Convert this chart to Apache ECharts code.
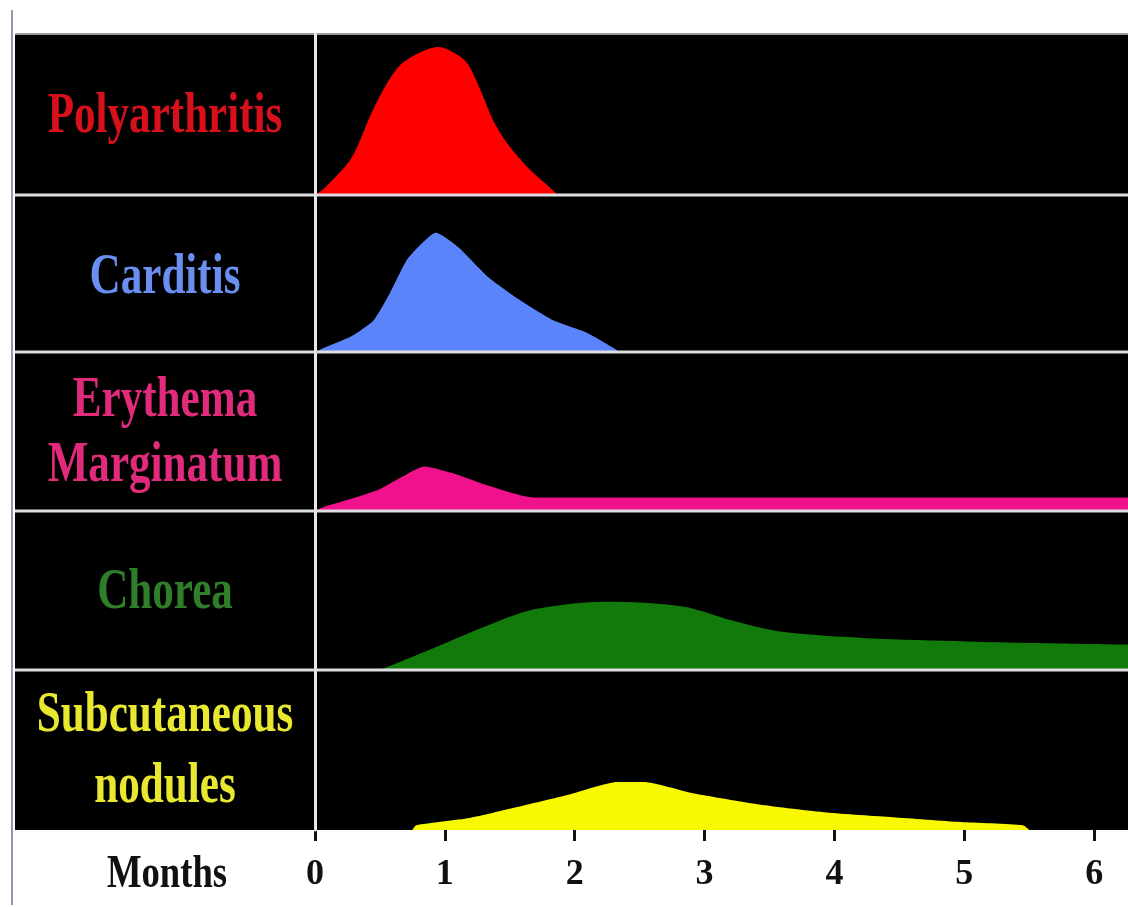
<!DOCTYPE html>
<html><head><meta charset="utf-8">
<script src="https://cdn.jsdelivr.net/npm/echarts@6/dist/echarts.min.js"></script>
<style>html,body{margin:0;padding:0;background:#fff}#c{width:1128px;height:907px}</style>
</head><body><div id="c"></div>
<script>
// ---- data ----
const categories = ['Polyarthritis', 'Carditis', 'Erythema Marginatum', 'Chorea', 'Subcutaneous nodules'];
const labelLines = [['Polyarthritis'], ['Carditis'], ['Erythema', 'Marginatum'], ['Chorea'], ['Subcutaneous', 'nodules']];

const polyMonths = [0, 0.07, 0.28, 0.43, 0.53, 0.66, 0.82, 0.95, 1.10, 1.18, 1.28, 1.38, 1.49, 1.64, 1.79, 1.87];
const polyValues = [0, 4, 23, 50, 66, 81, 89, 92, 87, 81, 64, 45, 31, 17, 6, 0];

const cardMonths = [0, 0.08, 0.28, 0.45, 0.58, 0.71, 0.82, 0.93, 1.10, 1.33, 1.58, 1.84, 2.10, 2.35];
const cardValues = [0, 3, 10, 20, 38, 59, 69, 76, 67, 48, 33, 20, 12, 0];

const eryMonths = [0, 0.05, 0.48, 0.66, 0.84, 1.05, 1.33, 1.68, 6.26];
const eryValues = [0, 2, 13, 21, 28, 24, 16, 8.5, 8.5];

const choMonths = [0.5, 0.92, 1.3, 1.68, 2.24, 2.83, 3.22, 3.6, 4.25, 5.02, 5.53, 6.26];
const choValues = [0, 14, 27, 38, 43, 40, 31, 24, 20, 18, 17, 16];

const subMonths = [0.75, 0.78, 1.19, 1.54, 1.95, 2.33, 2.53, 2.91, 3.42, 3.94, 4.45, 4.97, 5.45, 5.5];
const subValues = [0, 3, 7.5, 14, 22, 30, 30, 23, 16, 11, 8, 5, 3, 0];

const monthTicks = [0, 1, 2, 3, 4, 5, 6];
const xName = 'Months';

// ---- styling / layout ----
const fillColors = ['#ff0000', '#5b84fb', '#f0128a', '#127a0a', '#f8f800'];
const textColors = ['#d8101c', '#6a8ff0', '#e02a7c', '#2f7f2a', '#e8e830'];
const bandTops = [34, 195, 352, 511, 670];
const bandBottoms = [195, 352, 511, 670, 830];
const labelCenters = [[118], [279], [402, 467], [594], [717, 788]];
const seriesMonths = [polyMonths, cardMonths, eryMonths, choMonths, subMonths];
const seriesValues = [polyValues, cardValues, eryValues, choValues, subValues];
const smoothness = [0.3, 0.2, 0.2, 0.3, 0.2];
const xMax = 6.26;
const serif = '"Liberation Serif", "Times New Roman", serif';

const chart = echarts.init(document.getElementById('c'), null, {renderer: 'canvas'});

const grids = bandTops.map((t, i) => ({left: 315, right: 0, top: t, height: bandBottoms[i] - t}));
const xAxes = grids.map((g, i) => {
  const last = i === grids.length - 1;
  return {
    type: 'value', gridIndex: i, min: 0, max: xMax,
    show: last,
    axisLine: {show: false},
    splitLine: {show: false},
    axisTick: {show: last, customValues: monthTicks, length: 11, lineStyle: {color: '#111', width: 3}},
    axisLabel: {show: last, customValues: monthTicks, margin: 27, color: '#111',
      fontSize: 36, fontWeight: 'bold', fontFamily: serif}
  };
});
const yAxes = grids.map((g, i) => ({
  type: 'value', gridIndex: i, min: 0, max: 100, z: 10,
  axisLine: {show: true, lineStyle: {color: '#e8e8e8', width: 3}},
  axisTick: {show: false}, axisLabel: {show: false}, splitLine: {show: false}
}));
const series = categories.map((name, i) => ({
  name, type: 'line', xAxisIndex: i, yAxisIndex: i,
  data: seriesMonths[i].map((m, k) => [m, seriesValues[i][k]]),
  smooth: smoothness[i],
  showSymbol: false, symbol: 'none',
  lineStyle: {width: 0, color: fillColors[i]},
  areaStyle: {color: fillColors[i], opacity: 1},
  itemStyle: {color: fillColors[i]},
  silent: true, animation: false
}));

const graphics = [
  {type: 'rect', shape: {x: 15, y: 34, width: 1113, height: 796}, style: {fill: '#000'}, z: 0},
  {type: 'line', shape: {x1: 15, y1: 34, x2: 1128, y2: 34}, style: {stroke: '#9a9a9a', lineWidth: 2}, z: 1},
  {type: 'line', shape: {x1: 12, y1: 10, x2: 12, y2: 905}, style: {stroke: '#8c9bab', lineWidth: 2}, z: 1}
];
bandBottoms.slice(0, 4).forEach(y => {
  graphics.push({type: 'line', shape: {x1: 15, y1: y, x2: 1128, y2: y},
    style: {stroke: '#dedede', lineWidth: 3}, z: 20});
});
labelLines.forEach((lines, i) => {
  lines.forEach((txt, j) => {
    graphics.push({
      type: 'text', x: 165, y: labelCenters[i][j], scaleX: 0.77, z: 30,
      style: {text: txt, fontSize: 56, fontWeight: 'bold', fontFamily: serif, fill: textColors[i],
        align: 'center', verticalAlign: 'middle', textAlign: 'center', textVerticalAlign: 'middle'}
    });
  });
});
graphics.push({
  type: 'text', x: 167, y: 875, scaleX: 0.78, z: 30,
  style: {text: xName, fontSize: 47, fontWeight: 'bold', fontFamily: serif, fill: '#111',
    align: 'center', verticalAlign: 'middle', textAlign: 'center', textVerticalAlign: 'middle'}
});

chart.setOption({
  backgroundColor: '#fff',
  animation: false,
  grid: grids,
  xAxis: xAxes,
  yAxis: yAxes,
  series: series,
  graphic: {elements: graphics}
});
</script>
</body></html>
